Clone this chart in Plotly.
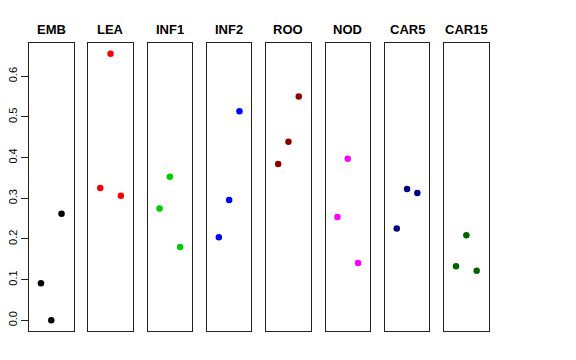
import plotly.graph_objects as go

panels = ["EMB", "LEA", "INF1", "INF2", "ROO", "NOD", "CAR5", "CAR15"]
colors = ["#000000", "#FF0000", "#00CD00", "#0000FF", "#8B0000", "#FF00FF", "#000080", "#006400"]
x_pos = [1, 2, 3]
emb = [0.091, 0.000, 0.262]
lea = [0.325, 0.655, 0.306]
inf1 = [0.275, 0.353, 0.180]
inf2 = [0.204, 0.296, 0.514]
roo = [0.384, 0.439, 0.550]
nod = [0.254, 0.397, 0.141]
car5 = [0.226, 0.323, 0.313]
car15 = [0.133, 0.209, 0.122]
values = [emb, lea, inf1, inf2, roo, nod, car5, car15]
y_ticks = [0.0, 0.1, 0.2, 0.3, 0.4, 0.5, 0.6]
y_tick_labels = ["0.0", "0.1", "0.2", "0.3", "0.4", "0.5", "0.6"]

W, H = 576, 360
left0 = 29.0
pw = 44.5
pitch = 59.3
top, bottom = 43.0, 331.0

fig = go.Figure()
layout = dict(
    width=W, height=H, margin=dict(l=0, r=0, t=0, b=0, autoexpand=False),
    paper_bgcolor="white", plot_bgcolor="white", showlegend=False,
    font=dict(family="Liberation Sans, Arial, sans-serif", color="black"),
)
annotations = []
for i, (name, col, vals) in enumerate(zip(panels, colors, values)):
    sx = "" if i == 0 else str(i + 1)
    x0 = left0 + i * pitch
    x1 = x0 + pw
    fig.add_trace(go.Scatter(
        x=x_pos, y=vals, mode="markers",
        marker=dict(color=col, size=6.5, line=dict(width=0)),
        xaxis="x" + sx, yaxis="y" + sx, hoverinfo="skip",
    ))
    layout["xaxis" + sx] = dict(
        domain=[x0 / W, x1 / W], range=[-0.16, 4.16], anchor="y" + sx,
        showgrid=False, zeroline=False, showticklabels=False, ticks="",
        showline=True, mirror=True, linecolor="#222222", linewidth=1,
        automargin=False,
    )
    ydict = dict(
        domain=[1 - bottom / H, 1 - top / H], range=[-0.0262, 0.6817], anchor="x" + sx,
        showgrid=False, zeroline=False, automargin=False,
        showline=True, mirror=True, linecolor="#222222", linewidth=1,
    )
    if i == 0:
        ydict.update(tickvals=y_ticks, ticktext=y_tick_labels, ticks="outside",
                     ticklen=7, tickcolor="#222222", tickangle=-90,
                     tickfont=dict(size=11, color="black"), showticklabels=True)
    else:
        ydict.update(showticklabels=False, ticks="")
    layout["yaxis" + sx] = ydict
    annotations.append(dict(
        text="<b>" + name + "</b>", x=(x0 + x1) / 2 / W, y=1 - 29 / H,
        xref="paper", yref="paper", showarrow=False, xanchor="center", yanchor="middle",
        font=dict(size=13, color="black"),
    ))
layout["annotations"] = annotations
fig.update_layout(**layout)
fig.write_html("out.html", config={"displayModeBar": False, "staticPlot": True},
               post_script="document.body.style.margin='0';")
